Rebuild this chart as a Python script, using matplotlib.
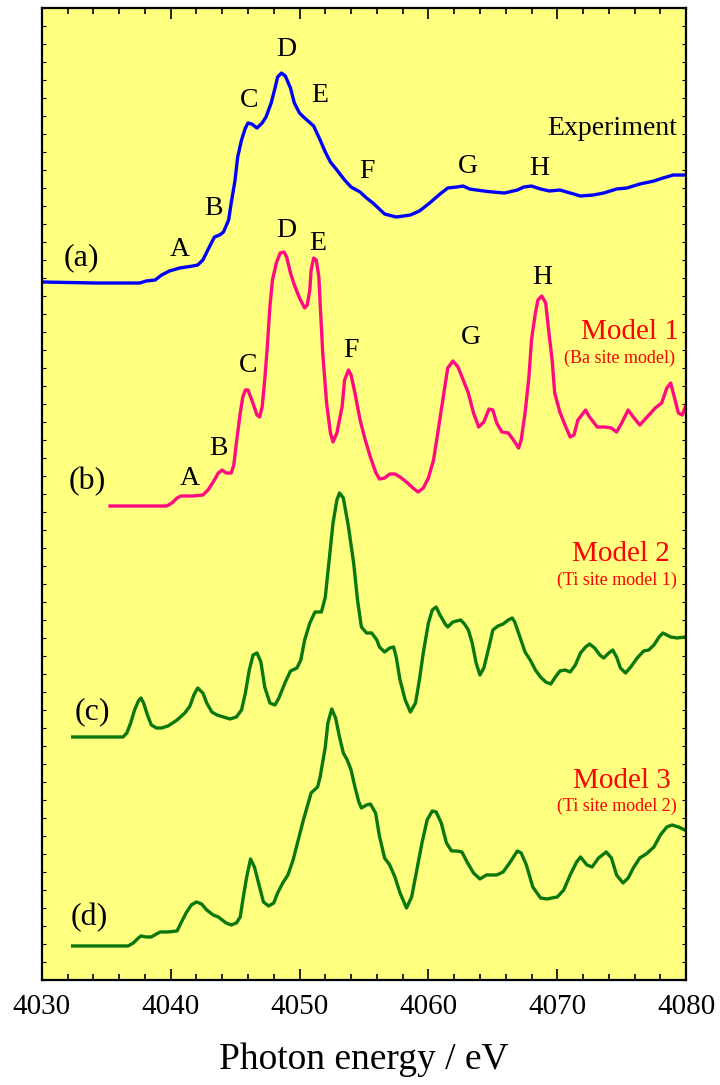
import numpy as np
import matplotlib.pyplot as plt
from matplotlib.ticker import MultipleLocator, NullFormatter

plt.rcParams['font.family'] = ['Liberation Serif', 'DejaVu Serif']

# (a) experiment
exp_e = [4030.1, 4034.2, 4037.6, 4038.1, 4038.8, 4039.3, 4039.9, 4040.7, 4041.7,
         4042.1, 4042.5, 4043.0, 4043.4, 4043.8, 4044.1, 4044.5, 4044.7, 4045.0,
         4045.2, 4045.5, 4045.8, 4046.0, 4046.3, 4046.7, 4047.1, 4047.4, 4047.8,
         4048.1, 4048.3, 4048.6, 4048.9, 4049.3, 4049.6, 4050.0, 4050.4, 4051.1,
         4051.6, 4052.0, 4052.4, 4052.9, 4053.5, 4054.0, 4054.7, 4055.2, 4055.7,
         4056.6, 4057.5, 4058.6, 4059.3, 4060.1, 4060.9, 4061.5, 4062.2, 4062.7,
         4063.2, 4064.3, 4065.0, 4065.9, 4066.9, 4067.4, 4068.0, 4068.7, 4069.4,
         4070.2, 4071.0, 4071.8, 4072.8, 4073.6, 4074.6, 4075.4, 4076.4, 4077.5,
         4078.2, 4079.0, 4079.9]
exp_i = [0.00, -0.01, -0.01, 0.01, 0.02, 0.07, 0.11, 0.14, 0.16, 0.17, 0.22, 0.35,
         0.45, 0.47, 0.50, 0.62, 0.79, 1.02, 1.25, 1.42, 1.54, 1.59, 1.58, 1.54,
         1.59, 1.65, 1.79, 1.94, 2.05, 2.09, 2.06, 1.94, 1.79, 1.69, 1.64, 1.56,
         1.42, 1.30, 1.20, 1.12, 1.02, 0.95, 0.90, 0.84, 0.79, 0.68, 0.65, 0.67,
         0.71, 0.79, 0.88, 0.94, 0.95, 0.96, 0.93, 0.91, 0.90, 0.89, 0.92, 0.95,
         0.96, 0.93, 0.91, 0.92, 0.89, 0.86, 0.87, 0.89, 0.93, 0.94, 0.98, 1.01,
         1.04, 1.07, 1.07]

# (b) model 1, Ba site
m1_e = [4035.3, 4039.7, 4040.1, 4040.5, 4040.8, 4041.7, 4042.5, 4042.9, 4043.3,
        4043.7, 4044.0, 4044.3, 4044.7, 4044.9, 4045.1, 4045.4, 4045.6, 4045.8,
        4046.0, 4046.3, 4046.7, 4046.9, 4047.1, 4047.3, 4047.5, 4047.7, 4047.9,
        4048.2, 4048.5, 4048.8, 4049.0, 4049.3, 4049.6, 4050.0, 4050.4, 4050.6,
        4050.8, 4050.9, 4051.1, 4051.3, 4051.5, 4051.6, 4051.8, 4052.1, 4052.4,
        4052.6, 4052.9, 4053.3, 4053.5, 4053.8, 4054.0, 4054.3, 4054.7, 4055.1,
        4055.5, 4055.9, 4056.2, 4056.6, 4057.0, 4057.4, 4057.8, 4058.3, 4058.8,
        4059.2, 4059.6, 4060.0, 4060.4, 4060.8, 4061.2, 4061.5, 4061.9, 4062.3,
        4062.7, 4063.1, 4063.5, 4063.9, 4064.3, 4064.7, 4065.0, 4065.3, 4065.7,
        4066.2, 4066.6, 4067.0, 4067.2, 4067.5, 4067.8, 4068.0, 4068.3, 4068.5,
        4068.8, 4069.1, 4069.3, 4069.6, 4069.8, 4070.2, 4070.6, 4071.0, 4071.3,
        4071.6, 4072.2, 4072.5, 4073.1, 4073.7, 4074.2, 4074.6, 4075.0, 4075.5,
        4075.9, 4076.4, 4076.9, 4077.6, 4078.1, 4078.5, 4078.8, 4079.0, 4079.4,
        4079.7, 4080.0]
m1_i = [0.00, 0.00, 0.03, 0.08, 0.10, 0.10, 0.11, 0.16, 0.24, 0.33, 0.36, 0.33,
        0.33, 0.41, 0.63, 0.93, 1.09, 1.16, 1.16, 1.06, 0.91, 0.89, 0.99, 1.26,
        1.59, 1.99, 2.26, 2.43, 2.53, 2.54, 2.49, 2.33, 2.21, 2.08, 1.98, 2.01,
        2.16, 2.36, 2.48, 2.46, 2.29, 2.03, 1.53, 1.03, 0.73, 0.64, 0.73, 0.99,
        1.26, 1.36, 1.31, 1.13, 0.86, 0.66, 0.49, 0.34, 0.27, 0.28, 0.32, 0.32,
        0.29, 0.24, 0.18, 0.14, 0.18, 0.28, 0.46, 0.79, 1.13, 1.38, 1.45, 1.39,
        1.26, 1.13, 0.93, 0.79, 0.84, 0.97, 0.96, 0.83, 0.74, 0.73, 0.66, 0.58,
        0.66, 0.93, 1.29, 1.66, 1.93, 2.06, 2.10, 2.03, 1.79, 1.46, 1.13, 0.94,
        0.81, 0.69, 0.71, 0.86, 0.96, 0.89, 0.79, 0.79, 0.78, 0.74, 0.83, 0.96,
        0.89, 0.81, 0.88, 0.98, 1.03, 1.18, 1.23, 1.13, 0.93, 0.91, 1.01]

# (c) model 2, Ti site 1
m2_e = [4032.4, 4036.3, 4036.6, 4036.9, 4037.2, 4037.5, 4037.7, 4037.9, 4038.2,
        4038.5, 4038.9, 4039.3, 4039.8, 4040.5, 4041.1, 4041.5, 4041.8, 4042.1,
        4042.5, 4042.8, 4043.2, 4043.6, 4044.1, 4044.6, 4045.1, 4045.5, 4045.8,
        4046.1, 4046.4, 4046.7, 4047.0, 4047.3, 4047.7, 4048.1, 4048.4, 4048.9,
        4049.3, 4049.8, 4050.1, 4050.4, 4050.8, 4051.2, 4051.7, 4052.0, 4052.3,
        4052.6, 4052.9, 4053.1, 4053.4, 4053.8, 4054.2, 4054.5, 4054.8, 4055.2,
        4055.6, 4056.0, 4056.2, 4056.6, 4057.0, 4057.3, 4057.5, 4057.8, 4058.2,
        4058.6, 4059.0, 4059.3, 4059.6, 4060.0, 4060.3, 4060.6, 4060.9, 4061.3,
        4061.5, 4061.9, 4062.5, 4062.8, 4063.1, 4063.4, 4063.7, 4064.0, 4064.3,
        4064.7, 4065.0, 4065.4, 4065.8, 4066.2, 4066.5, 4066.7, 4067.1, 4067.5,
        4067.9, 4068.3, 4068.7, 4069.1, 4069.5, 4069.8, 4070.2, 4070.6, 4071.0,
        4071.4, 4071.8, 4072.2, 4072.5, 4072.9, 4073.3, 4073.6, 4074.0, 4074.3,
        4074.6, 4074.9, 4075.3, 4075.7, 4076.2, 4076.7, 4077.1, 4077.5, 4077.9,
        4078.2, 4078.8, 4079.3, 4079.9]
m2_i = [0.00, 0.00, 0.04, 0.14, 0.27, 0.36, 0.39, 0.34, 0.22, 0.12, 0.09, 0.09,
        0.11, 0.17, 0.24, 0.31, 0.42, 0.49, 0.44, 0.34, 0.25, 0.22, 0.20, 0.18,
        0.20, 0.27, 0.44, 0.67, 0.82, 0.84, 0.75, 0.50, 0.34, 0.32, 0.39, 0.55,
        0.66, 0.69, 0.77, 0.97, 1.14, 1.25, 1.25, 1.40, 1.77, 2.14, 2.37, 2.44,
        2.39, 2.10, 1.74, 1.37, 1.10, 1.04, 1.04, 0.97, 0.90, 0.85, 0.89, 0.90,
        0.80, 0.57, 0.37, 0.25, 0.34, 0.57, 0.84, 1.14, 1.27, 1.30, 1.22, 1.13,
        1.10, 1.15, 1.17, 1.13, 1.07, 0.94, 0.74, 0.62, 0.69, 0.90, 1.07, 1.11,
        1.13, 1.17, 1.19, 1.15, 1.00, 0.85, 0.77, 0.67, 0.60, 0.55, 0.53, 0.59,
        0.66, 0.67, 0.65, 0.72, 0.84, 0.90, 0.93, 0.89, 0.82, 0.79, 0.84, 0.87,
        0.80, 0.69, 0.64, 0.70, 0.79, 0.86, 0.87, 0.92, 1.00, 1.04, 1.00, 0.99,
        1.00]

# (d) model 3, Ti site 2
m3_e = [4032.4, 4036.7, 4037.1, 4037.5, 4037.7, 4038.1, 4038.5, 4038.9, 4039.2,
        4039.8, 4040.5, 4040.8, 4041.2, 4041.6, 4042.0, 4042.4, 4042.8, 4043.3,
        4043.7, 4044.0, 4044.3, 4044.7, 4045.1, 4045.4, 4045.6, 4045.9, 4046.2,
        4046.5, 4046.9, 4047.2, 4047.6, 4048.0, 4048.3, 4048.7, 4049.1, 4049.5,
        4049.9, 4050.3, 4050.7, 4050.9, 4051.4, 4051.6, 4052.0, 4052.2, 4052.5,
        4052.8, 4053.1, 4053.4, 4053.7, 4054.0, 4054.3, 4054.6, 4054.8, 4055.2,
        4055.5, 4055.9, 4056.2, 4056.6, 4057.0, 4057.4, 4057.8, 4058.3, 4058.7,
        4059.1, 4059.5, 4059.9, 4060.3, 4060.6, 4061.0, 4061.4, 4061.8, 4062.2,
        4062.6, 4063.0, 4063.5, 4064.0, 4064.5, 4065.3, 4065.8, 4066.3, 4066.9,
        4067.2, 4067.6, 4068.1, 4068.7, 4069.2, 4070.0, 4070.5, 4071.0, 4071.5,
        4071.8, 4072.3, 4072.7, 4073.2, 4073.8, 4074.2, 4074.6, 4075.1, 4075.5,
        4075.9, 4076.4, 4076.9, 4077.5, 4078.0, 4078.5, 4078.9, 4079.4, 4079.9]
m3_i = [0.00, 0.00, 0.03, 0.08, 0.10, 0.09, 0.09, 0.12, 0.14, 0.14, 0.15, 0.23,
        0.33, 0.41, 0.44, 0.42, 0.36, 0.31, 0.29, 0.26, 0.23, 0.21, 0.23, 0.29,
        0.46, 0.69, 0.87, 0.79, 0.59, 0.44, 0.40, 0.43, 0.53, 0.63, 0.71, 0.86,
        1.06, 1.26, 1.44, 1.53, 1.59, 1.69, 1.99, 2.23, 2.37, 2.28, 2.09, 1.93,
        1.86, 1.76, 1.59, 1.44, 1.38, 1.41, 1.42, 1.33, 1.10, 0.88, 0.81, 0.69,
        0.53, 0.38, 0.49, 0.76, 1.03, 1.26, 1.35, 1.34, 1.23, 1.03, 0.95, 0.95,
        0.94, 0.84, 0.73, 0.67, 0.71, 0.71, 0.74, 0.83, 0.95, 0.93, 0.81, 0.59,
        0.48, 0.47, 0.49, 0.56, 0.71, 0.84, 0.89, 0.81, 0.79, 0.88, 0.94, 0.88,
        0.71, 0.63, 0.68, 0.78, 0.88, 0.92, 0.99, 1.11, 1.19, 1.21, 1.19, 1.16]

offsets = [6.98, 4.74, 2.43, 0.34]
colors = ['#0000ff', '#ff0a80', '#0a780a', '#0a780a']
tags = ['(a)', '(b)', '(c)', '(d)']
tag_pos = [(4033.1, 7.22), (4033.5, 4.98), (4033.9, 2.68), (4033.7, 0.62)]

letters = ['A', 'B', 'C', 'D', 'E', 'F', 'G', 'H']
exp_lab = [(4040.7, 7.31), (4043.3, 7.72), (4046.1, 8.80), (4049.0, 9.31),
           (4051.6, 8.85), (4055.2, 8.09), (4063.1, 8.14), (4068.6, 8.12)]
m1_lab = [(4041.5, 5.02), (4043.7, 5.32), (4046.0, 6.15), (4049.0, 7.50),
          (4051.4, 7.37), (4054.0, 6.30), (4063.3, 6.43), (4068.8, 7.03)]

model_names = ['Model 1', 'Model 2', 'Model 3']
model_notes = ['(Ba site model)', '(Ti site model 1)', '(Ti site model 2)']
name_pos = [(4075.6, 6.48), (4074.9, 4.26), (4075.0, 1.99)]
note_pos = [(4074.8, 6.22), (4074.6, 4.00), (4074.6, 1.74)]

fig = plt.figure(figsize=(7.2, 10.85), dpi=100)
ax = fig.add_axes([0.058, 0.0968, 0.895, 0.8958])
ax.set_facecolor('#ffff80')

series = [(exp_e, exp_i), (m1_e, m1_i), (m2_e, m2_i), (m3_e, m3_i)]
for (e, i), off, c in zip(series, offsets, colors):
    ax.plot(e, np.array(i) + off, color=c, lw=2.4, solid_joinstyle='round')

for t, (x, y) in zip(tags, tag_pos):
    ax.text(x, y, t, ha='center', va='center', size=23)
for l, (x, y) in zip(letters, exp_lab):
    ax.text(x, y, l, ha='center', va='center', size=20)
for l, (x, y) in zip(letters, m1_lab):
    ax.text(x, y, l, ha='center', va='center', size=20)
ax.text(4079.3, 8.52, 'Experiment', ha='right', va='center', size=20)
for n, (x, y) in zip(model_names, name_pos):
    ax.text(x, y, n, ha='center', va='center', size=21, color='#ff0000')
for n, (x, y) in zip(model_notes, note_pos):
    ax.text(x, y, n, ha='center', va='center', size=13, color='#ff0000')

ax.set_xlim(4030, 4080)
ax.set_ylim(0, 9.72)
ax.xaxis.set_major_locator(MultipleLocator(10))
ax.xaxis.set_minor_locator(MultipleLocator(2))
ax.yaxis.set_major_locator(MultipleLocator(0.18))
ax.yaxis.set_major_formatter(NullFormatter())
ax.tick_params(axis='x', which='major', direction='in', top=True, length=8,
               width=1.2, labelsize=21, pad=10)
ax.tick_params(axis='x', which='minor', direction='in', top=True, length=4,
               width=1.2)
ax.tick_params(axis='y', which='major', direction='in', right=True, length=3,
               width=0.8)
for s in ax.spines.values():
    s.set_linewidth(1.6)
ax.set_xlabel('Photon energy / eV', size=27, labelpad=16)

fig.savefig('out.png', dpi=100)
